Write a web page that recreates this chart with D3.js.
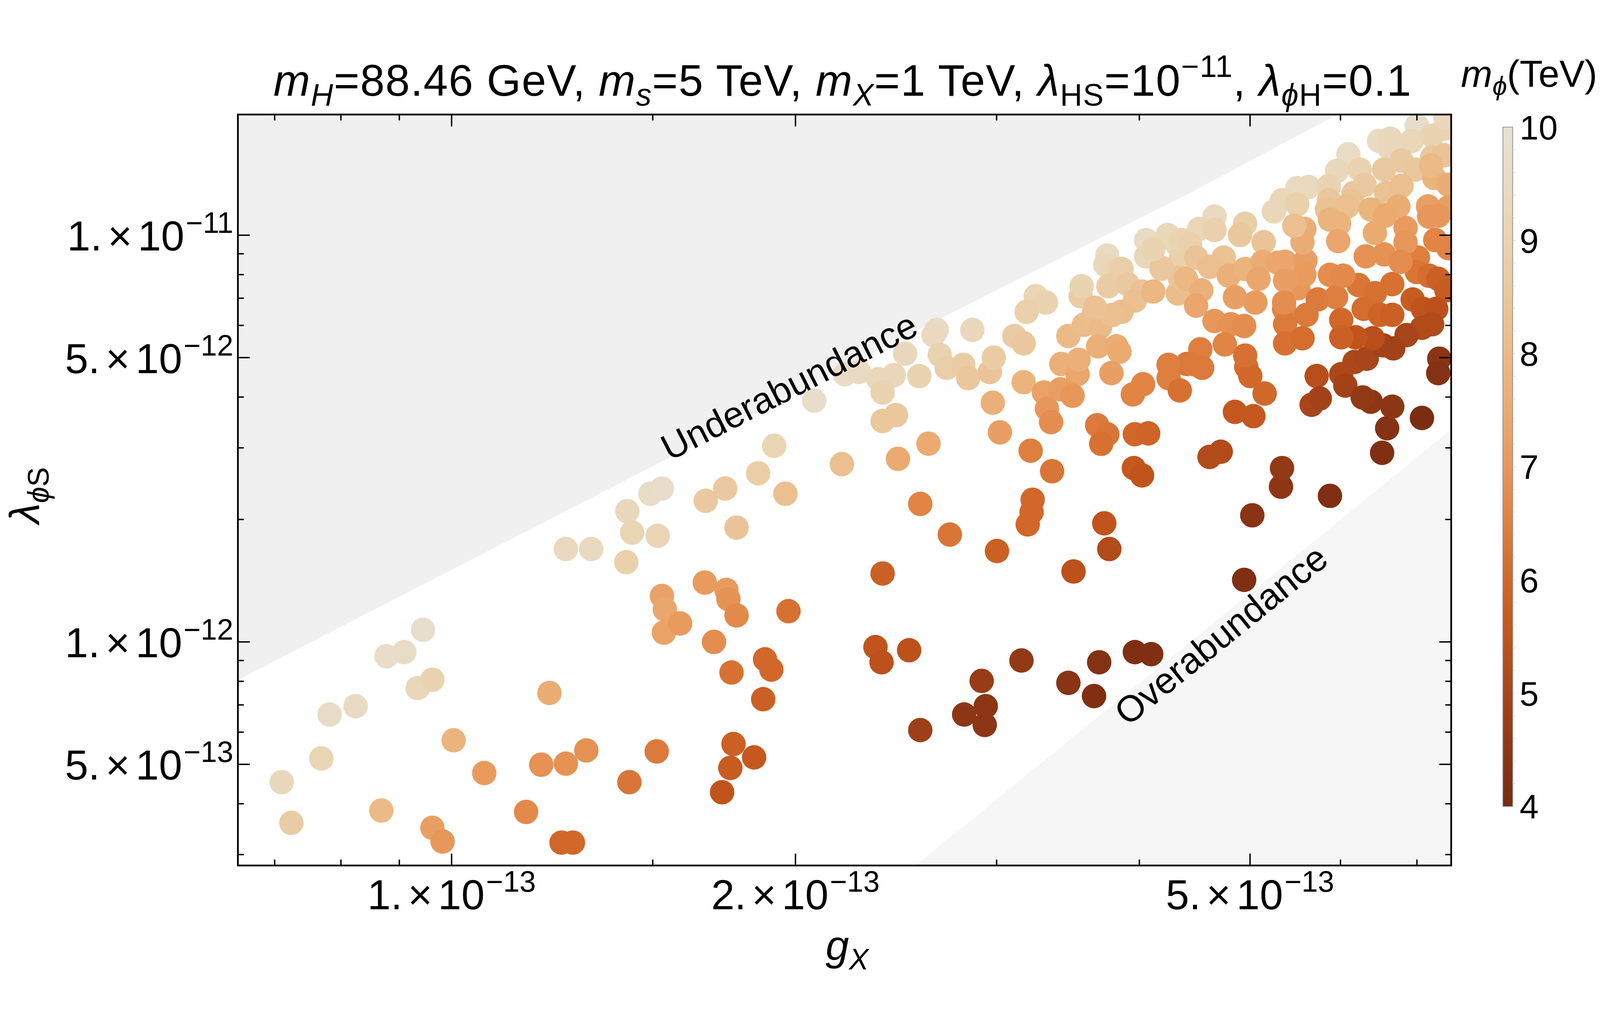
<!DOCTYPE html>
<html>
<head>
<meta charset="utf-8">
<script src="https://cdnjs.cloudflare.com/ajax/libs/d3/7.8.5/d3.min.js"></script>
<style>
  html, body { margin: 0; padding: 0; background: #fff; width: 100%; height: 100%; overflow: hidden; }
  svg { display: block; width: 100vw; height: 100vh; }
  text { font-family: "Liberation Sans", Arial, sans-serif; white-space: pre; }
</style>
</head>
<body>
<svg id="chart" viewBox="0 0 4580 2636" preserveAspectRatio="xMidYMid meet"></svg>
<script>
// g_X values in units of 1e-13, lambda_phiS in units of 1e-12, m_phi in TeV
const gX = [
  0.710,0.724,0.769,0.782,0.824,0.868,0.877,0.909,0.944,0.934,0.962,1.004,0.962,0.982,1.068,1.162,1.198,1.218,1.259,1.312,
  1.248,1.277,1.431,1.512,1.259,1.325,1.422,1.439,1.425,1.493,1.528,1.515,1.528,1.537,1.534,1.585,1.666,1.740,1.747,1.776,
  1.697,1.758,1.776,1.669,1.736,1.855,1.916,1.960,1.972,1.881,1.905,1.874,1.765,1.754,1.840,1.725,2.077,2.196,2.210,2.273,
  2.364,2.438,2.384,2.384,2.449,2.459,2.495,2.567,2.615,2.572,2.730,2.384,2.350,2.379,2.515,2.572,2.659,2.642,2.857,2.675,
  2.713,2.805,2.833,2.959,2.983,3.109,3.168,3.246,3.313,3.187,3.168,2.977,3.020,3.300,3.320,3.348,3.213,3.355,3.226,3.194,
  3.219,3.002,3.503,3.727,3.765,3.418,3.532,3.539,3.411,3.496,3.467,3.576,3.554,3.561,3.651,3.696,3.681,3.820,3.843,3.781,
  3.674,3.750,3.704,3.964,4.072,3.956,4.022,3.948,4.030,4.243,4.340,3.750,3.735,3.788,3.859,3.758,3.907,4.022,3.964,3.859,
  3.788,3.659,4.055,4.234,4.114,4.055,4.183,4.322,4.349,4.322,4.340,4.403,3.154,3.467,3.651,3.689,3.964,4.097,2.810,2.911,
  2.935,2.929,4.941,5.023,5.322,5.333,5.874,6.525,6.592,7.071,6.378,6.660,5.661,4.608,4.713,4.850,5.034,5.149,4.962,5.003,
  5.719,6.009,6.172,6.326,7.322,7.307,6.998,6.485,6.633,6.926,7.218,7.398,6.096,6.633,5.959,6.236,6.552,6.785,6.970,7.218,
  7.398,7.248,7.459,5.499,5.626,5.862,6.160,6.300,6.579,6.785,5.246,5.333,5.499,5.862,5.838,6.134,6.084,6.378,6.743,6.566,
  7.158,7.173,5.874,5.579,5.984,4.655,4.513,4.655,4.951,4.900,5.139,4.234,4.358,4.431,4.183,4.485,4.742,4.608,4.394,4.532,
  4.485,4.791,4.951,5.128,5.086,5.054,4.850,4.655,4.811,4.941,4.523,4.752,4.458,4.540,5.289,5.366,5.511,5.591,5.558,5.579,
  5.874,5.731,5.355,5.366,5.603,5.366,5.558,5.947,6.009,6.223,6.033,6.313,6.552,6.431,6.841,7.013,6.998,7.173,7.307,7.428,
  6.660,6.431,6.287,6.498,6.660,6.940,7.085,7.277,7.071,7.218,6.855,6.674,6.538,6.404,6.185,6.009,4.114,4.114,7.459,7.459,
  7.413,7.310,5.972,6.841,7.263,6.059,5.755,6.275,5.366,5.355,4.951,4.243,5.467,6.771,7.203
];
const lambdaPhiS = [
  0.452,0.359,0.517,0.663,0.695,0.385,0.922,0.944,1.071,0.770,0.807,0.573,0.349,0.323,0.476,0.382,0.499,0.749,0.502,0.541,
  0.321,0.321,0.452,0.538,1.692,1.692,1.571,1.857,2.097,2.314,2.383,1.824,1.297,1.202,1.054,1.110,1.399,1.342,1.274,1.162,
  1.000,0.841,1.910,2.223,2.383,2.598,3.036,2.314,1.190,0.906,0.855,0.723,0.561,0.490,0.520,0.427,3.920,2.736,4.552,4.608,
  4.427,4.527,4.104,3.492,3.611,2.819,5.111,4.505,3.072,2.184,1.836,1.473,0.971,0.891,0.954,0.607,5.85,5.68,5.85,5.08,
  4.719,4.80,4.453,4.608,5.00,5.65,5.42,7.08,6.83,6.48,4.35,3.874,3.275,4.104,3.743,3.471,2.952,2.628,2.236,1.945,
  2.085,1.673,1.490,1.957,1.692,4.823,4.552,4.94,4.178,4.03,5.65,6.02,7.08,7.49,6.44,5.95,5.33,5.33,5.17,4.58,
  3.41,3.24,3.07,3.24,3.256,2.675,2.567,4.06,4.30,4.453,4.153,8.92,8.46,8.17,8.26,7.49,7.58,7.27,6.91,6.48,
  6.37,6.63,9.73,9.90,9.34,8.87,8.26,9.45,8.76,7.19,7.86,4.823,0.900,0.793,0.736,0.891,0.944,0.933,0.663,0.802,
  0.695,0.625,1.421,2.048,2.408,2.675,2.286,2.917,3.353,3.553,3.896,3.787,3.829,2.85,2.935,3.677,3.59,4.08,4.746,4.505,
  4.505,4.552,4.88,4.97,4.97,4.58,18.6,17.05,17.27,17.05,17.55,18.27,15.81,16.26,14.4,14.5,14.5,15.25,14.5,15.54,
  15.72,13.83,13.30,13.06,13.14,13.22,12.70,13.30,12.70,13.22,11.44,12.19,11.91,12.19,11.57,12.12,11.77,11.57,11.77,11.17,
  11.77,11.11,10.92,10.36,10.67,11.11,10.36,10.30,10.67,10.01,9.61,10.01,9.73,9.50,8.31,8.81,8.81,8.36,7.81,7.32,
  6.71,7.95,8.26,8.60,7.81,6.83,7.04,6.15,6.04,5.98,5.24,5.39,4.823,4.72,8.56,8.60,7.41,8.66,9.61,7.99,
  7.99,6.95,6.59,6.04,6.37,5.42,5.58,7.04,6.19,7.54,7.95,8.87,8.97,10.13,10.42,8.81,8.12,7.95,7.81,7.32,
  7.58,7.20,6.59,6.37,6.37,6.95,6.59,6.59,5.92,6.04,5.68,5.27,5.36,5.58,5.61,5.61,7.27,9.23,11.70,9.29,
  19.5,11.17,9.67,9.61,9.73,4.27,3.967,3.990,7.73,6.83,5.058,4.80,10.55,8.60,14.84
];
const mPhi = [
  9.3,8.7,9.1,9.6,9.5,8.0,9.7,9.6,9.8,9.2,9.0,7.8,7.2,7.0,7.1,6.7,6.9,7.6,6.9,6.9,
  6.0,6.0,6.3,6.4,9.4,9.4,8.9,9.1,9.3,9.6,9.7,9.1,7.3,7.4,7.3,7.1,7.1,7.1,6.9,6.7,
  6.8,6.2,8.4,8.6,8.6,8.8,9.1,8.2,6.2,6.0,6.0,5.8,5.8,5.7,5.6,5.5,9.7,8.2,9.6,9.5,
  9.3,9.2,9.0,8.5,8.5,7.5,9.3,9.0,7.5,6.6,6.3,5.8,5.5,5.4,5.4,4.8,9.5,9.4,9.3,9.0,
  8.8,8.7,8.5,8.4,8.7,8.7,8.5,9.1,9.0,8.9,7.8,7.7,7.2,7.3,7.0,6.8,6.5,6.3,6.0,6.0,
  6.0,5.8,5.4,5.5,5.2,7.7,7.4,7.7,7.2,7.0,8.0,8.1,8.7,9.0,8.2,8.0,7.7,7.6,7.5,7.2,
  6.4,6.3,6.2,6.0,5.9,5.6,5.5,6.6,6.6,6.5,6.2,9.5,9.3,9.1,8.8,8.7,8.6,8.4,8.2,8.1,
  8.2,8.3,9.6,9.6,9.3,9.2,8.9,9.2,8.9,8.1,8.4,6.3,4.6,4.4,4.2,4.3,4.2,4.2,4.5,4.7,
  4.5,4.5,4.2,4.4,4.5,4.6,4.2,4.2,4.3,4.1,4.5,4.5,5.0,5.2,5.2,5.6,5.6,6.0,6.1,6.0,
  5.3,5.1,5.1,5.0,4.4,4.3,9.7,9.5,9.3,9.2,9.0,9.0,9.6,9.3,9.3,9.0,8.6,8.6,8.5,8.5,
  8.4,7.8,7.6,9.5,9.4,9.0,8.5,8.6,8.3,8.2,9.2,9.2,8.9,8.5,8.3,8.3,8.2,7.8,7.6,7.5,
  7.2,7.0,7.8,7.6,7.8,9.4,9.2,8.9,8.8,8.5,8.4,9.2,9.0,8.9,8.5,8.4,8.3,8.2,7.9,7.7,
  7.4,7.7,7.8,7.6,7.4,7.1,7.2,7.0,6.9,6.8,6.5,6.6,6.4,6.4,7.4,7.4,7.0,7.2,7.6,7.1,
  6.8,6.4,6.6,6.4,6.4,6.2,6.1,6.5,6.0,6.3,6.7,6.9,6.9,7.5,7.1,6.5,6.3,6.1,5.8,5.7,
  6.2,6.2,6.1,5.9,5.8,5.7,5.5,5.4,5.2,5.2,5.0,4.9,4.9,5.3,5.5,5.8,7.9,9.0,7.2,6.6,
  9.3,7.0,7.4,7.0,6.6,4.9,4.9,4.6,7.2,6.8,6.2,6.5,8.2,6.8,8.0
];
const gUnit = 1e-13, lUnit = 1e-12;

// colour function (m_phi -> colour)
const mStops = [4, 4.5, 5, 5.5, 6, 6.5, 7, 7.5, 8, 8.5, 9, 9.5, 10];
const mColors = ["#772b11","#8d3615","#a8451a","#c1541b","#d1682a","#df7f3f","#e8975a",
                 "#ebaa70","#ebba86","#eac79c","#ead3b0","#e9dbc3","#e7e0d4"];
const cbTicks = [4, 5, 6, 7, 8, 9, 10];

// ticks
const xMajor = [1e-13, 2e-13, 5e-13];
const xMinor = [7e-14, 8e-14, 9e-14, 1.5e-13, 3e-13, 4e-13, 6e-13, 7e-13];
const yMajor = [5e-13, 1e-12, 5e-12, 1e-11];
const yMinor = [3e-13, 4e-13, 6e-13, 7e-13, 8e-13, 9e-13, 2e-12, 3e-12, 4e-12, 6e-12, 7e-12, 8e-12, 9e-12];

// region boundaries (g_X, lambda_phiS)
const underEdge = [[6.5e-14, 8.07e-13], [2.515e-13, 5.71e-12], [4.41e-13, 1.262e-11], [6.24e-13, 2.12e-11]];
const overEdge = [[2.507e-13, 2.72e-13], [7.66e-13, 3.49e-12]];

const svg = d3.select("#chart");
const L = 681, R = 4154, T = 172, B = 2321;

const x = d3.scaleLog().domain([6.5e-14, 7.5e-13]).range([L, R]);
const y = d3.scaleLog().domain([2.82e-13, 1.98e-11]).range([B, T]);
const color = d3.scaleLinear().domain(mStops).range(mColors).interpolate(d3.interpolateRgb).clamp(true);

svg.append("defs").append("clipPath").attr("id", "plotclip")
   .append("rect").attr("x", L).attr("y", T).attr("width", R - L).attr("height", B - T);

const plot = svg.append("g").attr("clip-path", "url(#plotclip)");

// shaded regions
const poly = d3.line().x(d => x(d[0])).y(d => y(d[1]));
let underPts = underEdge.slice();
underPts.push([6.24e-13, 2.12e-11], [6.5e-14, 2.12e-11]);
plot.append("path").attr("d", poly(underPts) + "Z").attr("fill", "#f0f0f0");
let overPts = overEdge.slice();
overPts.push([7.66e-13, 2.72e-13]);
plot.append("path").attr("d", poly(overPts) + "Z").attr("fill", "#f6f6f6");

// points
const pts = gX.map((g, i) => ({g: g * gUnit, l: lambdaPhiS[i] * lUnit, m: mPhi[i]}));
plot.selectAll("circle").data(pts).enter().append("circle")
    .attr("cx", d => x(d.g))
    .attr("cy", d => y(d.l))
    .attr("r", 35)
    .attr("fill", d => color(d.m));

// frame
svg.append("rect").attr("x", L).attr("y", T).attr("width", R - L).attr("height", B - T)
   .attr("fill", "none").attr("stroke", "#000").attr("stroke-width", 5);

const ticks = svg.append("g").attr("stroke", "#000").attr("stroke-width", 4);
function xTick(v, len) {
  ticks.append("line").attr("x1", x(v)).attr("x2", x(v)).attr("y1", B).attr("y2", B - len);
  ticks.append("line").attr("x1", x(v)).attr("x2", x(v)).attr("y1", T).attr("y2", T + len);
}
function yTick(v, len) {
  ticks.append("line").attr("y1", y(v)).attr("y2", y(v)).attr("x1", L).attr("x2", L + len);
  ticks.append("line").attr("y1", y(v)).attr("y2", y(v)).attr("x1", R).attr("x2", R - len);
}
xMajor.forEach(v => xTick(v, 34));
xMinor.forEach(v => xTick(v, 17));
yMajor.forEach(v => yTick(v, 34));
yMinor.forEach(v => yTick(v, 17));

// rich text helper: level -1 subscript, 1 superscript
function rich(sel, parts, fs) {
  let off = 0;
  parts.forEach(p => {
    const lvl = p.lvl || 0;
    const target = lvl === -1 ? fs * 0.22 : (lvl === 1 ? -fs * 0.42 : 0);
    const t = sel.append("tspan").text(p.t);
    if (target !== off) t.attr("dy", target - off);
    off = target;
    if (lvl !== 0) t.attr("font-size", fs * 0.7);
    if (p.i) t.attr("font-style", "italic");
    if (p.dx) t.attr("dx", p.dx);
  });
}

function sciParts(v) {
  const e = Math.floor(Math.log10(v) + 1e-9);
  const m = Math.round(v / Math.pow(10, e));
  return [{t: m + "."}, {t: "\u00d7", dx: 16}, {t: "10", dx: 16}, {t: "\u2212" + (-e), lvl: 1, dx: 4}];
}

const fsTick = 120;
xMajor.forEach(v => {
  const t = svg.append("text").attr("x", x(v)).attr("y", 2446)
     .attr("text-anchor", "middle").attr("font-size", fsTick);
  rich(t, sciParts(v), fsTick);
});
yMajor.forEach(v => {
  const t = svg.append("text").attr("x", 668).attr("y", y(v) + 44)
     .attr("text-anchor", "end").attr("font-size", fsTick);
  rich(t, sciParts(v), fsTick);
});

// title
const title = svg.append("text").attr("x", 2412).attr("y", 118)
   .attr("text-anchor", "middle").attr("font-size", 126).attr("letter-spacing", 2);
rich(title, [
  {t: "m", i: 1}, {t: "H", i: 1, lvl: -1}, {t: "=88.46 GeV, "},
  {t: "m", i: 1}, {t: "s", i: 1, lvl: -1}, {t: "=5 TeV, "},
  {t: "m", i: 1}, {t: "X", i: 1, lvl: -1}, {t: "=1 TeV, "},
  {t: "\u03bb", i: 1}, {t: "HS", lvl: -1}, {t: "=10"}, {t: "\u221211", lvl: 1}, {t: ", "},
  {t: "\u03bb", i: 1}, {t: "\u03d5", i: 1, lvl: -1}, {t: "H", lvl: -1}, {t: "=0.1"}
], 126);

// axis labels
const xl = svg.append("text").attr("x", 2425).attr("y", 2592)
   .attr("text-anchor", "middle").attr("font-size", 120);
rich(xl, [{t: "g", i: 1}, {t: "X", i: 1, lvl: -1}], 120);

const yl = svg.append("text").attr("transform", "translate(112,1262) rotate(-90)")
   .attr("text-anchor", "middle").attr("font-size", 120);
rich(yl, [{t: "\u03bb", i: 1}, {t: "\u03d5", i: 1, lvl: -1}, {t: "S", lvl: -1}], 120);

// region annotations
svg.append("text").attr("transform", "translate(2258,948) rotate(-27)")
   .attr("text-anchor", "middle").attr("dy", "0.36em").attr("font-size", 105).text("Underabundance");
svg.append("text").attr("transform", "translate(3494,1660) rotate(-39)")
   .attr("text-anchor", "middle").attr("dy", "0.36em").attr("font-size", 105).text("Overabundance");

// colour bar
const cbX = 4302, cbW = 28, cbTop = 208, cbBot = 2152;
const cy = d3.scaleLinear().domain([4, 10]).range([cbBot, cbTop]);
const grad = svg.select("defs").append("linearGradient").attr("id", "cbgrad")
   .attr("x1", 0).attr("y1", 1).attr("x2", 0).attr("y2", 0);
mStops.forEach(m => grad.append("stop")
   .attr("offset", (m - 4) / 6).attr("stop-color", color(m)));
svg.append("rect").attr("x", cbX).attr("y", cbTop).attr("width", cbW).attr("height", cbBot - cbTop)
   .attr("fill", "url(#cbgrad)").attr("stroke", "#8a8a8a").attr("stroke-width", 2);
const cbMinor = d3.range(4.2, 10, 0.2);
svg.append("g").selectAll("line").data(cbMinor).enter().append("line")
   .attr("x1", cbX + cbW).attr("x2", cbX + cbW + 8)
   .attr("y1", d => cy(d)).attr("y2", d => cy(d))
   .attr("stroke", "#c8c8c8").attr("stroke-width", 1.5);
svg.append("g").selectAll("text").data(cbTicks).enter().append("text")
   .attr("x", 4350).attr("y", d => cy(d)).attr("dy", "0.36em")
   .attr("font-size", 98).text(d => d);

const cbl = svg.append("text").attr("x", 4182).attr("y", 92).attr("font-size", 108);
rich(cbl, [{t: "m", i: 1}, {t: "\u03d5", i: 1, lvl: -1}, {t: "(TeV)"}], 108);
</script>
</body>
</html>
